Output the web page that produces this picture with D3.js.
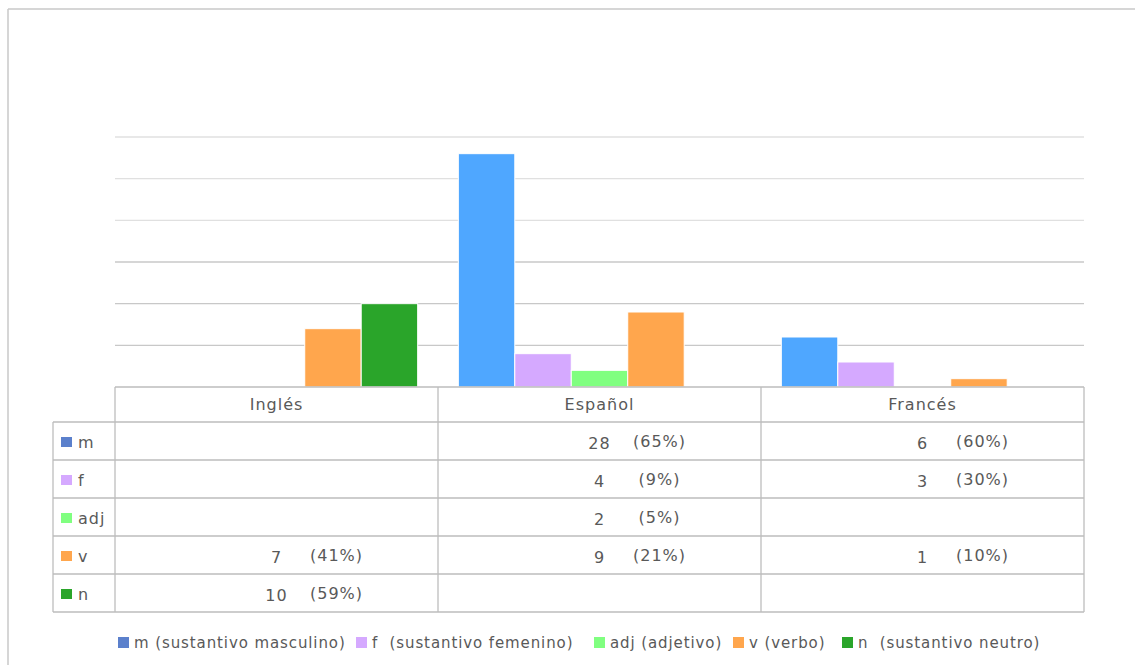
<!DOCTYPE html>
<html>
<head>
<meta charset="utf-8">
<script src="https://cdn.jsdelivr.net/npm/d3@7"></script>
<style>
    body { margin: 0; background: #fff; }
    text { font-family: "DejaVu Sans", sans-serif; fill: #595959; }
</style>
</head>
<body>
<div id="chart"></div>
<script>
// data
const categories = ["Inglés", "Español", "Francés"];
const seriesKeys = ["m", "f", "adj", "v", "n"];
const seriesNames = ["(sustantivo masculino)", "(sustantivo femenino)", "(adjetivo)", "(verbo)", "(sustantivo neutro)"];
const mValues = [0, 28, 6];
const fValues = [0, 4, 3];
const adjValues = [0, 2, 0];
const vValues = [7, 9, 1];
const nValues = [10, 0, 0];
const mPct = ["", "(65%)", "(60%)"];
const fPct = ["", "(9%)", "(30%)"];
const adjPct = ["", "(5%)", ""];
const vPct = ["(41%)", "(21%)", "(10%)"];
const nPct = ["(59%)", "", ""];
const gridTicks = [0, 5, 10, 15, 20, 25, 30];

const values = [mValues, fValues, adjValues, vValues, nValues];
const pcts = [mPct, fPct, adjPct, vPct, nPct];
const barColors = ["#4fa7ff", "#d5a9ff", "#80ff80", "#ffa64d", "#2aa52a"];
const keyColors = ["#5b80cc", "#d5a9ff", "#80ff80", "#ffa64d", "#2aa52a"];

const W = 1135, H = 665;
const plot = {left: 115, right: 1084, top: 137, bottom: 387};
const labelLeft = 53;
const headerH = 35, rowH = 38;

const svg = d3.select("#chart").append("svg")
    .attr("width", W)
    .attr("height", H);

// outer frame (only top and left visible)
svg.append("line")
    .attr("x1", 8).attr("y1", 9).attr("x2", W).attr("y2", 9)
    .style("stroke", "#c9c9c9").style("stroke-width", 1.5);
svg.append("line")
    .attr("x1", 8).attr("y1", 9).attr("x2", 8).attr("y2", H)
    .style("stroke", "#c9c9c9").style("stroke-width", 1.5);

let x0 = d3.scaleBand()
    .domain(categories)
    .range([plot.left, plot.right])
    .padding(0);

let x1 = d3.scaleBand()
    .domain(seriesKeys)
    .range([0, x0.bandwidth()])
    .paddingInner(0)
    .paddingOuter(0.36);

let y = d3.scaleLinear()
    .domain([0, 30])
    .range([plot.bottom, plot.top]);

// gridlines
svg.append("g")
    .selectAll("line")
    .data(gridTicks.slice(1))
    .enter().append("line")
    .attr("x1", plot.left)
    .attr("x2", plot.right)
    .attr("y1", d => y(d))
    .attr("y2", d => y(d))
    .style("stroke", d => d >= 20 ? "#e0e0e0" : "#c8c8c8")
    .style("stroke-width", 1.3);

// bars
let groups = svg.append("g")
    .selectAll("g")
    .data(categories)
    .enter().append("g")
    .attr("transform", d => "translate(" + x0(d) + ",0)");

groups.selectAll("rect")
    .data((c, ci) => seriesKeys.map((k, si) => ({key: k, si: si, value: values[si][ci]})))
    .enter().append("rect")
    .filter(d => d.value > 0)
    .attr("x", d => x1(d.key))
    .attr("y", d => y(d.value))
    .attr("width", x1.bandwidth())
    .attr("height", d => y(0) - y(d.value))
    .style("fill", d => barColors[d.si])
    .style("stroke", "#fff")
    .style("stroke-width", 1);

// data table
const tableTop = plot.bottom;
const rowTop = i => tableTop + headerH + i * rowH;
const tableBottom = rowTop(seriesKeys.length);
const border = "#bdbdbd";
let table = svg.append("g");

// horizontal lines
table.append("line")
    .attr("x1", plot.left).attr("x2", plot.right)
    .attr("y1", tableTop).attr("y2", tableTop);
d3.range(seriesKeys.length + 1).forEach(i => {
    table.append("line")
        .attr("x1", labelLeft).attr("x2", plot.right)
        .attr("y1", rowTop(i)).attr("y2", rowTop(i));
});
// vertical lines
table.append("line")
    .attr("x1", labelLeft).attr("x2", labelLeft)
    .attr("y1", rowTop(0)).attr("y2", tableBottom);
[plot.left].concat(categories.map(c => x0(c) + x0.bandwidth())).forEach(xv => {
    table.append("line")
        .attr("x1", xv).attr("x2", xv)
        .attr("y1", tableTop).attr("y2", tableBottom);
});
table.selectAll("line")
    .style("stroke", border)
    .style("stroke-width", 1.3);

// header
table.selectAll(".cat-label")
    .data(categories)
    .enter().append("text")
    .attr("class", "cat-label")
    .attr("x", d => x0(d) + x0.bandwidth() / 2)
    .attr("y", tableTop + 23)
    .attr("text-anchor", "middle")
    .style("font-size", "16px")
    .style("letter-spacing", "1px")
    .text(d => d);

// row labels and cells
seriesKeys.forEach((k, si) => {
    let cy = rowTop(si) + rowH / 2;
    table.append("rect")
        .attr("x", 61).attr("y", cy - 4)
        .attr("width", 11).attr("height", 10)
        .style("fill", keyColors[si]);
    table.append("text")
        .attr("x", 78).attr("y", cy + 7)
        .style("font-size", "16px")
        .style("letter-spacing", "1px")
        .text(k);

    categories.forEach((c, ci) => {
        let v = values[si][ci];
        if (v <= 0) return;
        let cx = x0(c) + x0.bandwidth() / 2;
        table.append("text")
            .attr("x", cx).attr("y", cy + 8)
            .attr("text-anchor", "middle")
            .style("font-size", "16px")
            .style("letter-spacing", "1px")
            .text(v);
        table.append("text")
            .attr("x", cx + 60).attr("y", cy + 6)
            .attr("text-anchor", "middle")
            .style("font-size", "16px")
            .style("letter-spacing", "1px")
            .text(pcts[si][ci]);
    });
});

// legend
const legendX = [118, 356, 594, 733, 842];
const legendY = 642;
let legend = svg.append("g");
seriesKeys.forEach((k, si) => {
    legend.append("rect")
        .attr("x", legendX[si]).attr("y", legendY - 5)
        .attr("width", 11).attr("height", 11)
        .style("fill", keyColors[si]);
    legend.append("text")
        .attr("x", legendX[si] + 16).attr("y", legendY + 6)
        .style("font-size", "15px")
        .style("letter-spacing", "0.9px")
        .attr("xml:space", "preserve")
        .text(k + (k === "f" || k === "n" ? "  " : " ") + seriesNames[si]);
});
</script>
</body>
</html>
